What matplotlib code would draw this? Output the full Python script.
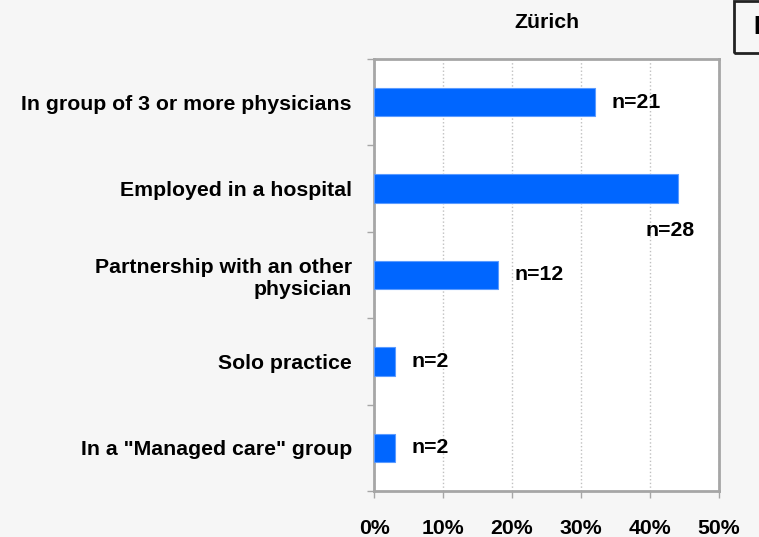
#!/usr/bin/env python3
#

import matplotlib
matplotlib.use('Agg')
import matplotlib.pyplot as plt
from matplotlib.patches import Rectangle

plt.rcParams['font.family'] = ['Liberation Sans', 'DejaVu Sans']

# Data (top to bottom)
categories = ['In group of 3 or more physicians',
              'Employed in a hospital',
              'Partnership with an other\nphysician',
              'Solo practice',
              'In a "Managed care" group']
shares = [32, 44, 18, 3, 3]          # percent
counts = [21, 28, 12, 2, 2]
x_ticks = [0, 10, 20, 30, 40, 50]
title = 'Zürich'

FS = 15.3
W, H = 759, 537
fig = plt.figure(figsize=(W / 100, H / 100), dpi=100, facecolor='#f6f6f6')
ax = fig.add_axes([374 / W, 1 - 491 / H, (719 - 374) / W, (491 - 59) / H])
ax.set_facecolor('white')

ypos = list(range(len(categories)))
ax.barh(ypos, shares, height=0.33, color='#0066ff', edgecolor='#5b9bff', linewidth=0.8, zorder=3)

# data labels (the hospital one sits under its bar, like the original)
for i, (v, n) in enumerate(zip(shares, counts)):
    if i == 1:
        ax.text(39.3, i + 0.48, f'n={n}', ha='left', va='center',
                fontsize=FS, fontweight='bold', zorder=4)
    else:
        ax.text(v + 2.4, i, f'n={n}', ha='left', va='center',
                fontsize=FS, fontweight='bold', zorder=4)

ax.set_xlim(0, 50)
ax.set_ylim(len(categories) - 0.5, -0.5)

ax.set_xticks(x_ticks)
ax.set_xticklabels([f'{t}%' for t in x_ticks], fontsize=FS, fontweight='bold')
ax.tick_params(axis='x', length=5, width=1, color='#a6a6a6', pad=15)

# category labels at centers, tick marks at boundaries
ax.set_yticks(ypos)
ax.set_yticklabels(categories, fontsize=FS, fontweight='bold', multialignment='right')
ax.tick_params(axis='y', which='major', length=0, pad=16)
ax.set_yticks([i - 0.5 for i in range(len(categories) + 1)], minor=True)
ax.tick_params(axis='y', which='minor', length=5, width=1, color='#a6a6a6')

ax.xaxis.grid(True, linestyle=':', color='#c0c0c0', linewidth=1, zorder=0)
ax.set_axisbelow(True)
for s in ax.spines.values():
    s.set_color('#a6a6a6')
    s.set_linewidth(2)

ax.set_title(title, fontsize=FS, fontweight='bold', pad=22)

# cut-off box at the top right corner
fig.patches.append(Rectangle((734 / W, 1 - 53 / H), 40 / W, 52 / H, transform=fig.transFigure,
                             fill=False, edgecolor='#222222', linewidth=2))
fig.text(753 / W, 1 - 27 / H, 'B', fontsize=18, fontweight='bold', ha='left', va='center')

fig.savefig('out.png', dpi=100, facecolor=fig.get_facecolor())
